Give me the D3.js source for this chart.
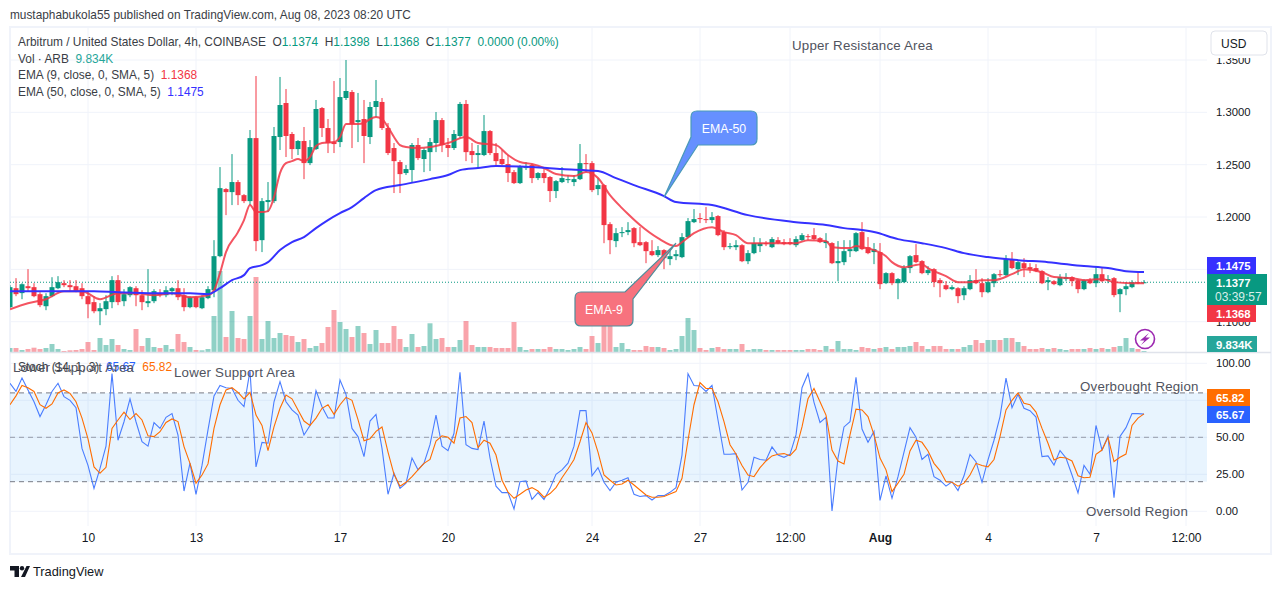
<!DOCTYPE html>
<html>
<head>
<meta charset="utf-8">
<script src="https://cdn.jsdelivr.net/npm/d3@7"></script>
<style>
  html, body { margin: 0; padding: 0; background: #fff; }
  svg { display: block; font-family: "Liberation Sans", sans-serif; }
</style>
</head>
<body>
<svg id="chart" width="1281" height="589"></svg>
<script>
// values, one per 4h bar (bar 0 is cut by the left edge)
var opens = [
  1.1139,1.1320,1.1273,1.1339,1.1330,1.1263,1.1148,1.1244,1.1320,1.1368,
  1.1349,1.1339,1.1320,1.1244,1.1187,1.1100,1.1120,1.1187,1.1397,1.1196,
  1.1253,1.1320,1.1253,1.1177,1.1196,1.1272,1.1253,1.1292,1.1320,1.1253,
  1.1139,1.1234,1.1129,1.1225,1.1301,1.1626,1.2267,1.2238,1.2334,1.2209,
  1.2152,1.2754,1.1779,1.2143,1.2152,1.2764,1.3089,1.2793,1.2649,1.2726,
  1.2515,1.2649,1.3041,1.2850,1.2716,1.2716,1.3137,1.3194,1.2907,1.2936,
  1.2764,1.3051,1.3099,1.2850,1.2659,1.2525,1.2420,1.2449,1.2688,1.2554,
  1.2620,1.2707,1.2926,1.2688,1.2659,1.2774,1.3080,1.2630,1.2592,1.2592,
  1.2821,1.2611,1.2554,1.2506,1.2429,1.2324,1.2468,1.2496,1.2372,1.2420,
  1.2382,1.2248,1.2334,1.2353,1.2334,1.2362,1.2515,1.2515,1.2267,1.2305,
  1.1932,1.1770,1.1846,1.1856,1.1894,1.1760,1.1760,1.1674,1.1636,1.1684,
  1.1598,1.1626,1.1617,1.1808,1.1951,1.1990,1.1980,1.1971,1.2009,1.1856,
  1.1712,1.1712,1.1731,1.1578,1.1655,1.1722,1.1751,1.1712,1.1779,1.1760,
  1.1760,1.1731,1.1779,1.1817,1.1827,1.1798,1.1751,1.1751,1.1559,1.1569,
  1.1674,1.1674,1.1856,1.1712,1.1665,1.1665,1.1368,1.1464,1.1368,1.1378,
  1.1512,1.1636,1.1579,1.1464,1.1502,1.1397,1.1349,1.1311,1.1320,1.1253,
  1.1311,1.1397,1.1368,1.1282,1.1368,1.1454,1.1445,1.1598,1.1502,1.1559,
  1.1521,1.1512,1.1483,1.1378,1.1387,1.1349,1.1407,1.1426,1.1397,1.1311,
  1.1397,1.1368,1.1454,1.1397,1.1416,1.1263,1.1311,1.1330,1.1378,1.1374];
var highs = [
  1.1349,1.1416,1.1368,1.1502,1.1368,1.1282,1.1272,1.1425,1.1435,1.1397,
  1.1397,1.1397,1.1368,1.1292,1.1244,1.1177,1.1253,1.1435,1.1445,1.1311,
  1.1339,1.1339,1.1301,1.1502,1.1311,1.1311,1.1339,1.1330,1.1397,1.1320,
  1.1244,1.1244,1.1253,1.1339,1.1779,1.2477,1.2276,1.2601,1.2353,1.2219,
  1.2831,1.3347,1.2181,1.2334,1.2860,1.3338,1.3223,1.2812,1.2735,1.2860,
  1.2735,1.3118,1.3051,1.2936,1.3299,1.3328,1.3500,1.3213,1.3185,1.3118,
  1.3099,1.3309,1.3137,1.2898,1.2707,1.2544,1.2496,1.2707,1.2755,1.2659,
  1.2755,1.3003,1.2946,1.2755,1.2831,1.3099,1.3118,1.2707,1.2688,1.2974,
  1.2831,1.2707,1.2640,1.2592,1.2449,1.2496,1.2525,1.2506,1.2429,1.2468,
  1.2391,1.2353,1.2477,1.2401,1.2401,1.2697,1.2601,1.2534,1.2372,1.2315,
  1.1951,1.1894,1.1904,1.1951,1.1904,1.1904,1.1770,1.1779,1.1722,1.1693,
  1.1684,1.1684,1.1846,1.1990,1.2076,1.2037,1.2095,1.2047,1.2018,1.1875,
  1.1751,1.1779,1.1741,1.1684,1.1808,1.1798,1.1770,1.1808,1.1808,1.1789,
  1.1798,1.1817,1.1846,1.1837,1.1894,1.1808,1.1846,1.1760,1.1770,1.1779,
  1.1779,1.1856,1.1951,1.1808,1.1751,1.1751,1.1473,1.1473,1.1416,1.1540,
  1.1636,1.1741,1.1588,1.1531,1.1512,1.1416,1.1388,1.1349,1.1330,1.1339,
  1.1445,1.1502,1.1416,1.1416,1.1464,1.1493,1.1636,1.1665,1.1579,1.1607,
  1.1559,1.1550,1.1493,1.1426,1.1397,1.1454,1.1464,1.1435,1.1407,1.1407,
  1.1416,1.1531,1.1512,1.1445,1.1426,1.1320,1.1378,1.1397,1.1473,1.1398];
var lows = [
  1.1129,1.1244,1.1215,1.1292,1.1234,1.1139,1.1110,1.1234,1.1311,1.1330,
  1.1292,1.1282,1.1215,1.1033,1.1081,1.0967,1.1062,1.1129,1.1158,1.1148,
  1.1234,1.1148,1.1110,1.1139,1.1177,1.1234,1.1234,1.1253,1.1206,1.1100,
  1.1129,1.1129,1.1120,1.1215,1.1234,1.1616,1.2018,1.2114,1.2114,1.2133,
  1.2114,1.1674,1.1665,1.2047,1.2133,1.2640,1.2573,1.2554,1.2592,1.2362,
  1.2496,1.2640,1.2764,1.2611,1.2611,1.2668,1.3118,1.2659,1.2716,1.2515,
  1.2697,1.2955,1.2831,1.2592,1.2229,1.2229,1.2401,1.2334,1.2544,1.2429,
  1.2439,1.2620,1.2620,1.2573,1.2640,1.2755,1.2534,1.2515,1.2468,1.2582,
  1.2592,1.2496,1.2496,1.2334,1.2315,1.2315,1.2449,1.2324,1.2353,1.2324,
  1.2143,1.2181,1.2324,1.2324,1.2295,1.2353,1.2429,1.2238,1.2209,1.1750,
  1.1645,1.1712,1.1808,1.1827,1.1712,1.1722,1.1559,1.1626,1.1617,1.1502,
  1.1540,1.1588,1.1607,1.1798,1.1942,1.1942,1.1942,1.1942,1.1817,1.1684,
  1.1693,1.1684,1.1569,1.1550,1.1645,1.1665,1.1722,1.1703,1.1741,1.1731,
  1.1731,1.1712,1.1770,1.1779,1.1779,1.1751,1.1703,1.1550,1.1387,1.1540,
  1.1617,1.1665,1.1684,1.1645,1.1550,1.1311,1.1359,1.1349,1.1215,1.1368,
  1.1464,1.1559,1.1454,1.1445,1.1330,1.1234,1.1301,1.1301,1.1177,1.1206,
  1.1301,1.1359,1.1234,1.1272,1.1330,1.1426,1.1435,1.1502,1.1445,1.1426,
  1.1464,1.1473,1.1359,1.1301,1.1349,1.1339,1.1387,1.1339,1.1272,1.1301,
  1.1359,1.1330,1.1378,1.1368,1.1234,1.1091,1.1253,1.1320,1.1359,1.1368];
var closes = [
  1.1330,1.1263,1.1358,1.1320,1.1244,1.1158,1.1244,1.1330,1.1378,1.1349,
  1.1330,1.1292,1.1244,1.1167,1.1100,1.1129,1.1196,1.1397,1.1187,1.1263,
  1.1330,1.1253,1.1187,1.1196,1.1292,1.1253,1.1301,1.1320,1.1234,1.1139,
  1.1234,1.1139,1.1234,1.1311,1.1626,1.2276,1.2238,1.2334,1.2209,1.2152,
  1.2754,1.1770,1.2152,1.2162,1.2774,1.3070,1.2774,1.2649,1.2726,1.2515,
  1.2668,1.3032,1.2850,1.2706,1.2697,1.3146,1.3204,1.2888,1.2926,1.2774,
  1.3051,1.3108,1.2850,1.2611,1.2534,1.2410,1.2458,1.2688,1.2563,1.2640,
  1.2716,1.2926,1.2688,1.2659,1.2793,1.3080,1.2620,1.2592,1.2611,1.2821,
  1.2611,1.2534,1.2506,1.2420,1.2324,1.2477,1.2477,1.2372,1.2420,1.2372,
  1.2248,1.2343,1.2372,1.2362,1.2362,1.2515,1.2506,1.2257,1.2305,1.1923,
  1.1779,1.1846,1.1856,1.1875,1.1750,1.1731,1.1674,1.1636,1.1684,1.1607,
  1.1626,1.1645,1.1808,1.1961,1.1980,1.1980,1.1971,1.1999,1.1827,1.1712,
  1.1722,1.1731,1.1578,1.1655,1.1751,1.1751,1.1741,1.1789,1.1751,1.1741,
  1.1741,1.1789,1.1827,1.1808,1.1789,1.1760,1.1770,1.1559,1.1579,1.1674,
  1.1693,1.1846,1.1693,1.1655,1.1693,1.1359,1.1464,1.1368,1.1407,1.1512,
  1.1626,1.1569,1.1464,1.1493,1.1378,1.1368,1.1311,1.1330,1.1244,1.1320,
  1.1397,1.1368,1.1282,1.1378,1.1454,1.1445,1.1598,1.1512,1.1569,1.1512,
  1.1502,1.1483,1.1368,1.1397,1.1359,1.1426,1.1426,1.1387,1.1311,1.1397,
  1.1368,1.1454,1.1387,1.1407,1.1254,1.1311,1.1339,1.1378,1.1368,1.1377];
// volume in thousands
var volumes = [
  40,40,20,30,43,30,40,80,30,10,17,20,30,100,20,140,70,130,70,30,
  20,230,60,140,50,40,70,30,180,100,50,20,17,30,360,810,150,410,140,130,
  360,750,130,310,140,190,170,160,100,130,40,60,90,250,420,300,230,150,260,190,
  80,220,90,90,260,130,50,180,50,60,287,130,140,50,50,120,310,70,50,50,
  50,40,40,40,300,50,20,30,30,30,50,30,30,20,30,50,30,160,90,300,
  300,50,90,30,20,20,60,50,50,40,20,30,160,340,220,40,20,40,50,30,
  30,30,80,20,30,30,20,20,20,20,20,20,20,30,30,20,60,30,110,30,
  30,20,50,40,30,40,50,30,50,50,60,100,60,30,60,60,30,30,30,50,
  70,120,90,120,120,120,140,140,100,60,30,30,40,30,40,30,20,30,30,30,
  40,30,40,30,50,60,140,40,30,9.834];
// stochastic %K and %D
var stochK = [
  86.5,81,90,82,74,64,72,81,86.5,77.5,75,70,42.5,31,15.5,29,44,93,48,60.5,
  76,60.5,47,44,60,56,63.5,66,51.5,13.7,32.5,11.5,31,55,78,85,83.5,83,75,70.7,
  95,30,46.6,46,74,87.6,74,68.5,65,51.6,58,81.5,70.7,63,63,88.7,79,56,50.5,37,
  61,65.5,42.5,11.5,25.7,15.5,19,36,28,32.5,45,65,44,41,52.7,94,45,42.5,41.7,61,
  36,17,12.6,12.6,1.6,20,20.5,8,12.6,8,15.5,25,28,32.5,44,68,68,24,29.5,19.6,
  14,19.6,21,22.7,11.5,10,10.6,7.6,10.6,10.6,12.8,16,38,93,85,84.7,81,85,61.7,38.5,
  38.5,39,14.4,19.6,36.5,35,34.5,43.5,38,36.5,38.5,51.6,83.5,93,73.6,60,63.5,0.2,36,57,
  60.5,90.5,55.6,46.6,54,7.4,23.9,8.8,23.4,40,56.5,50,35,38.5,23.4,21,17,20,14,24,
  38.5,33.5,19.6,34.7,48,64,90,70,79,69.6,68,63.7,37,37.4,31.3,41,36,24.5,12.4,31,
  25,58,41.4,50.7,9.2,50.5,56.5,66,66,65.67];
var stochD = [
  72,78,85,83.5,81,72,69.6,72.5,80,82,79.7,74,63,49,30,25.7,29.7,56,61.7,67,
  62,66,61.7,51,50.5,53.8,60,62.4,60.6,43.7,32.4,19,24.5,32,56,72,82,83.5,80.4,76,
  80.4,65,58,41,57,69.6,78.6,76,68.5,61,58,63,69.6,72,65.5,72,77,75,62,47.7,
  49,54,57,40,25,17,19.6,23.4,28,32.4,35,47.5,51,50,46,63,64,60,43,48,
  46,38,21,13,8.8,11.5,14.4,16,13.7,9.5,12,16,22.7,28.6,35,47,60,53,40,24.5,
  21,17.8,18.5,21,17.8,14.4,11,9.5,9.5,10,11.7,13.3,22.3,48,72,87,83,83,74,60.6,
  45,38.7,31,24.5,23.4,29.5,34,37.4,38.5,39,37.6,42,57,76,83,74,65,41.4,34,32,
  51.6,69,68.5,64,51.6,36,28,13.3,19,25,40.8,48,46.6,40.8,32.4,27.5,20,19.6,17,19,
  24.5,32.4,31,30,35,50.5,68.5,75,80,73,72,67,56,46,34.7,36.5,36,34,24,22.7,
  23,38.5,41.4,50,33.6,36.5,38.7,58,63,65.82];
// moving averages, read where their bends are (bar number + value)
var ema9Bars = [0,3,6,9,12,15,18,21,24,27,30,33,34,35,36,38,39,40,41,42,43,44,45,46,47,48,49,50,51,52,54,55,56,58,59,60,61,62,63,64,65,66,68,70,73,76,78,81,83,85,87,89,91,94,96,98,100,102,103,105,108,111,112,114,117,119,121,123,126,129,131,133,136,137,140,141,142,144,146,147,149,152,153,156,158,160,162,164,167,169,172,174,177,179,182,184,187,189];
var ema9 = [1.1119,1.1177,1.1215,1.1292,1.1292,1.1215,1.1272,1.1272,1.1253,1.1272,1.1234,1.1253,1.1301,1.1464,1.1665,1.1856,1.1971,1.2114,1.2047,1.2047,1.2056,1.2190,1.2420,1.2515,1.2534,1.2554,1.2534,1.2573,1.2678,1.2707,1.2716,1.2764,1.2888,1.2888,1.2898,1.2936,1.2955,1.2936,1.2859,1.2764,1.2687,1.2668,1.2659,1.2668,1.2707,1.2764,1.2707,1.2687,1.2592,1.2525,1.2506,1.2468,1.2410,1.2391,1.2429,1.2372,1.2209,1.2085,1.2028,1.1923,1.1798,1.1722,1.1760,1.1846,1.1903,1.1856,1.1827,1.1750,1.1750,1.1750,1.1750,1.1779,1.1770,1.1712,1.1703,1.1722,1.1712,1.1684,1.1626,1.1569,1.1521,1.1550,1.1512,1.1435,1.1378,1.1378,1.1397,1.1397,1.1454,1.1502,1.1473,1.1426,1.1416,1.1397,1.1407,1.1378,1.1368,1.1368];
var ema50Bars = [0,10,14,18,24,30,33,35,37,39,40,42,43,45,47,49,51,53,55,57,59,61,65,70,73,75,78,81,87,92,98,101,104,109,111,117,123,131,136,139,142,144,148,152,156,159,163,168,173,179,183,186,189];
var ema50 = [1.1292,1.1292,1.1292,1.1282,1.1272,1.1272,1.1263,1.1320,1.1397,1.1445,1.1512,1.1540,1.1569,1.1684,1.1760,1.1808,1.1894,1.1971,1.2037,1.2095,1.2181,1.2257,1.2305,1.2362,1.2401,1.2448,1.2468,1.2487,1.2477,1.2458,1.2439,1.2372,1.2305,1.2200,1.2143,1.2114,1.2018,1.1951,1.1923,1.1894,1.1875,1.1856,1.1789,1.1750,1.1703,1.1655,1.1617,1.1588,1.1569,1.1531,1.1512,1.1483,1.1475];
// axis ticks
var priceTicks = [1.35, 1.30, 1.25, 1.20, 1.15, 1.10];
var stochGrid = [100, 75, 50, 25, 0];
var stochTicks = [100, 50, 25, 0];
var stochBands = [80, 50, 20];
var timeBars = [13, 31, 55, 73, 97, 115, 130, 145, 163, 181, 196];
var timeLabels = ["10", "13", "17", "20", "24", "27", "12:00", "Aug", "4", "7", "12:00"];

var lastPrice = 1.1377, ema9Last = 1.1368, ema50Last = 1.1475, volLast = "9.834K";
var kLast = 65.67, dLast = 65.82;

var up = "#089981", down = "#f23645", blue = "#2962ff", orange = "#ff6d00";
var ema9Color = "#f23645", ema50Color = "#3531ff", gridColor = "#f0f3fa", inkColor = "#131722";

var svg = d3.select("#chart");
var paneLeft = 10, paneRight = 1207;

var x = d3.scaleLinear().domain([0, 189]).range([10, 1144]);
var priceY = d3.scaleLinear().domain([1.10, 1.35]).range([321.7, 60]);
var volY = d3.scaleLinear().domain([0, 810]).range([352, 271]);
var stochY = d3.scaleLinear().domain([0, 100]).range([511.3, 363.3]);

var defs = svg.append("defs");
defs.append("clipPath").attr("id", "pricePane").append("rect")
  .attr("x", paneLeft).attr("y", 28).attr("width", paneRight - paneLeft).attr("height", 324);
defs.append("clipPath").attr("id", "stochPane").append("rect")
  .attr("x", paneLeft).attr("y", 353).attr("width", paneRight - paneLeft).attr("height", 172);

// page header and frame
svg.append("text").attr("x", 10).attr("y", 19).attr("font-size", 11.85).attr("fill", "#3a3d45")
  .text("mustaphabukola55 published on TradingView.com, Aug 08, 2023 08:20 UTC");
svg.append("rect").attr("x", 10).attr("y", 27).attr("width", 1261).attr("height", 527)
  .attr("fill", "#fff").attr("stroke", gridColor).attr("stroke-width", 2);

// grid
var grid = svg.append("g").attr("stroke", gridColor).attr("stroke-width", 1);
grid.selectAll(".timeGrid").data(timeBars).enter().append("line")
  .attr("x1", function (d) { return x(d); }).attr("x2", function (d) { return x(d); })
  .attr("y1", 28).attr("y2", 526);
grid.selectAll(".priceGrid").data(priceTicks).enter().append("line")
  .attr("x1", paneLeft).attr("x2", paneRight)
  .attr("y1", function (d) { return priceY(d); }).attr("y2", function (d) { return priceY(d); });
grid.selectAll(".stochGrid").data(stochGrid).enter().append("line")
  .attr("x1", paneLeft).attr("x2", paneRight)
  .attr("y1", function (d) { return stochY(d); }).attr("y2", function (d) { return stochY(d); });

// price pane
var price = svg.append("g").attr("clip-path", "url(#pricePane)");
var bars = d3.range(opens.length);

price.selectAll(".vol").data(bars).enter().append("rect")
  .attr("x", function (i) { return x(i) - 2.5; })
  .attr("width", 5)
  .attr("y", function (i) { return volY(volumes[i]); })
  .attr("height", function (i) { return volY(0) - volY(volumes[i]); })
  .attr("fill", function (i) { return closes[i] >= opens[i] ? up : down; })
  .attr("fill-opacity", 0.45);

price.append("line").attr("x1", paneLeft).attr("x2", paneRight)
  .attr("y1", priceY(lastPrice)).attr("y2", priceY(lastPrice))
  .attr("stroke", up).attr("stroke-dasharray", "1 2");

price.selectAll(".wick").data(bars).enter().append("line")
  .attr("x1", function (i) { return x(i); }).attr("x2", function (i) { return x(i); })
  .attr("y1", function (i) { return priceY(highs[i]); })
  .attr("y2", function (i) { return priceY(lows[i]); })
  .attr("stroke", function (i) { return closes[i] >= opens[i] ? up : down; });

price.selectAll(".body").data(bars).enter().append("rect")
  .attr("x", function (i) { return x(i) - 2.5; })
  .attr("width", 5)
  .attr("y", function (i) { return priceY(Math.max(opens[i], closes[i])); })
  .attr("height", function (i) { return Math.max(1, Math.abs(priceY(opens[i]) - priceY(closes[i]))); })
  .attr("fill", function (i) { return closes[i] >= opens[i] ? up : down; });

var maLine = function (barList, values) {
  return d3.line()
    .x(function (d, n) { return x(barList[n]); })
    .y(function (d) { return priceY(d); })
    .curve(d3.curveMonotoneX)(values);
};
price.append("path").attr("d", maLine(ema9Bars, ema9))
  .attr("fill", "none").attr("stroke", ema9Color).attr("stroke-opacity", 0.85).attr("stroke-width", 2);
price.append("path").attr("d", maLine(ema50Bars, ema50))
  .attr("fill", "none").attr("stroke", ema50Color).attr("stroke-width", 2);

// pane separator
svg.append("line").attr("x1", paneLeft).attr("x2", 1271).attr("y1", 352.5).attr("y2", 352.5)
  .attr("stroke", "#e0e3eb").attr("stroke-width", 1.5);

// stochastic pane
var stoch = svg.append("g").attr("clip-path", "url(#stochPane)");
stoch.append("rect").attr("x", paneLeft).attr("width", paneRight - paneLeft)
  .attr("y", stochY(80)).attr("height", stochY(20) - stochY(80))
  .attr("fill", "#2196f3").attr("fill-opacity", 0.1);
stoch.selectAll(".band").data(stochBands).enter().append("line")
  .attr("x1", paneLeft).attr("x2", paneRight)
  .attr("y1", function (d) { return stochY(d); }).attr("y2", function (d) { return stochY(d); })
  .attr("stroke", "#787b86")
  .attr("stroke-opacity", function (d) { return d === 50 ? 0.7 : 1; })
  .attr("stroke-dasharray", "5 4");

var stochLine = d3.line().x(function (d, i) { return x(i); }).y(function (d) { return stochY(d); });
stoch.append("path").attr("d", stochLine(stochK)).attr("fill", "none").attr("stroke", "#4a7dff").attr("stroke-width", 1.1);
stoch.append("path").attr("d", stochLine(stochD)).attr("fill", "none").attr("stroke", orange).attr("stroke-width", 1.1);

// axes
var priceAxis = d3.axisRight(priceY).tickValues(priceTicks).tickSize(0).tickPadding(9).tickFormat(d3.format(".4f"));
var stochAxis = d3.axisRight(stochY).tickValues(stochTicks).tickSize(0).tickPadding(9).tickFormat(d3.format(".2f"));
var timeAxis = d3.axisBottom(x).tickValues(timeBars).tickSize(0).tickPadding(7)
  .tickFormat(function (d, i) { return timeLabels[i]; });

function styleAxis(g, size) {
  g.select(".domain").remove();
  g.selectAll("text").attr("fill", inkColor).attr("font-size", size)
    .attr("font-family", '"Liberation Sans", sans-serif');
}
svg.append("g").attr("transform", "translate(" + paneRight + ",0)").call(priceAxis).call(styleAxis, 11.3);
svg.append("g").attr("transform", "translate(" + paneRight + ",0)").call(stochAxis).call(styleAxis, 11.3);
var timeG = svg.append("g").attr("transform", "translate(0,526)").call(timeAxis).call(styleAxis, 12);
timeG.selectAll("text").filter(function (d, i) { return timeLabels[i] === "Aug"; }).attr("font-weight", "bold");

// USD box sits over the top price label
svg.append("rect").attr("x", 1209).attr("y", 29).attr("width", 60).attr("height", 29).attr("fill", "#fff");
svg.append("rect").attr("x", 1211).attr("y", 31).attr("width", 56).attr("height", 24).attr("rx", 4)
  .attr("fill", "#fff").attr("stroke", "#e0e3eb");
svg.append("text").attr("x", 1221).attr("y", 47.5).attr("font-size", 12).attr("fill", inkColor).text("USD");

// price tags
function tag(y0, y1, w, color, label) {
  svg.append("rect").attr("x", paneRight).attr("y", y0).attr("width", w).attr("height", y1 - y0).attr("fill", color);
  svg.append("text").attr("x", paneRight + 9).attr("y", (y0 + y1) / 2 + 4.5)
    .attr("font-size", 11.3).attr("font-weight", "bold").attr("fill", "#fff").text(label);
}
tag(257, 274, 49, ema50Color, d3.format(".4f")(ema50Last));
tag(305, 322, 49, down, d3.format(".4f")(ema9Last));
tag(336, 352, 50, "#26a69a", volLast);
tag(389, 406, 43, orange, d3.format(".2f")(dLast));
tag(406, 423, 43, blue, d3.format(".2f")(kLast));
svg.append("rect").attr("x", paneRight).attr("y", 274).attr("width", 60).attr("height", 31).attr("fill", up);
svg.append("text").attr("x", paneRight + 9).attr("y", 287).attr("font-size", 11.3).attr("font-weight", "bold")
  .attr("fill", "#fff").text(d3.format(".4f")(lastPrice));
svg.append("text").attr("x", paneRight + 8).attr("y", 301).attr("font-size", 12)
  .attr("fill", "#fff").attr("fill-opacity", 0.85).text("03:39:57");

// legend
function legendRow(y, parts, xStart) {
  var t = svg.append("text").attr("x", xStart).attr("y", y).attr("font-size", 11.9);
  parts.forEach(function (p) {
    t.append("tspan").attr("fill", p[1]).attr("xml:space", "preserve").text(p[0]);
  });
}
var ink = "#3a3d45";
legendRow(46, [["Arbitrum / United States Dollar, 4h, COINBASE", ink],
  ["  O", ink], ["1.1374", up], ["  H", ink], ["1.1398", up], ["  L", ink], ["1.1368", up],
  ["  C", ink], ["1.1377", up], ["  0.0000 (0.00%)", up]], 18);
legendRow(63, [["Vol · ARB  ", ink], ["9.834K", "#26a69a"]], 18);
legendRow(79, [["EMA (9, close, 0, SMA, 5)  ", ink], ["1.1368", ema9Color]], 18);
legendRow(96, [["EMA (50, close, 0, SMA, 5)  ", ink], ["1.1475", ema50Color]], 18);
legendRow(371, [["Stoch (14, 1, 3)  ", ink], ["65.67", blue], ["  ", ink], ["65.82", orange]], 18);

// text notes drawn on the chart
var notes = [
  ["Upper Resistance Area", 792, 50],
  ["Lower Support Area", 13, 372],
  ["Lower Support Area", 174, 377],
  ["Overbought Region", 1080, 391],
  ["Oversold Region", 1086, 516]
];
svg.selectAll(".note").data(notes).enter().append("text")
  .attr("x", function (d) { return d[1]; }).attr("y", function (d) { return d[2]; })
  .attr("font-size", 13.3).attr("fill", "#50535e").attr("letter-spacing", 0.2)
  .text(function (d) { return d[0]; });

// callouts
var tip50 = [x(109), priceY(1.2190)], tip9 = [x(111), priceY(1.1750)];
svg.append("path")
  .attr("d", "M697,111 H751 Q757,111 757,117 V139 Q757,145 751,145 H698 L" + tip50 + " L691,137 V117 Q691,111 697,111 Z")
  .attr("fill", "#6690ff").attr("stroke", "#4a9ab8").attr("stroke-width", 1.2);
svg.append("text").attr("x", 724).attr("y", 132.5).attr("text-anchor", "middle")
  .attr("font-size", 12.3).attr("fill", "#fff").text("EMA-50");
svg.append("path")
  .attr("d", "M581,292 H625 L" + tip9 + " L633,299 V320 Q633,326 627,326 H581 Q575,326 575,320 V298 Q575,292 581,292 Z")
  .attr("fill", "#f7727e").attr("stroke", "#4f8d9b").attr("stroke-width", 1.2);
svg.append("text").attr("x", 604).attr("y", 313.5).attr("text-anchor", "middle")
  .attr("font-size", 12.4).attr("fill", "#fff").text("EMA-9");

// lightning badge
svg.append("circle").attr("cx", 1145).attr("cy", 339).attr("r", 9.5)
  .attr("fill", "#fff").attr("stroke", "#9c27b0").attr("stroke-width", 1.6);
svg.append("path").attr("d", "M1149,333 L1140,340.5 L1144.5,340.5 L1141,345 L1150,337.5 L1145.5,337.5 Z").attr("fill", "#9c27b0");

// TradingView mark
svg.append("path").attr("d", "M10,566 H19 V577 H14.5 V570.5 H10 Z M26.5,566 H30 L25,577 H21 Z").attr("fill", inkColor);
svg.append("circle").attr("cx", 22).attr("cy", 568.2).attr("r", 2.2).attr("fill", inkColor);
svg.append("text").attr("x", 33).attr("y", 576).attr("font-size", 12.8).attr("fill", inkColor).text("TradingView");
</script>
</body>
</html>
